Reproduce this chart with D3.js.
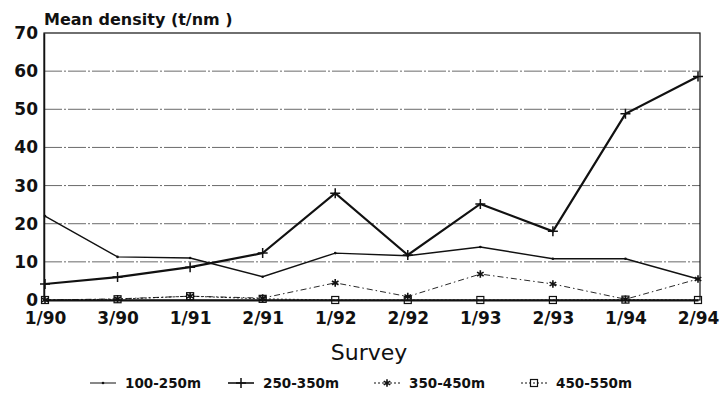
<!DOCTYPE html>
<html>
<head>
<meta charset="utf-8">
<script src="https://cdn.jsdelivr.net/npm/d3@7"></script>
<style>
  body { margin: 0; background: #fff; }
  text { font-family: "DejaVu Sans", sans-serif; fill: #111; }
</style>
</head>
<body>
<div id="chart"></div>
<script>
// Chart data
const surveys = ["1/90", "3/90", "1/91", "2/91", "1/92", "2/92", "1/93", "2/93", "1/94", "2/94"];
const depth100 = [22, 11.3, 11, 6.1, 12.3, 11.6, 13.9, 10.8, 10.8, 5.5];
const depth250 = [4.2, 6, 8.6, 12.3, 28, 11.8, 25.2, 18, 48.8, 58.6];
const depth350 = [0, 0.3, 1, 0.5, 4.5, 0.9, 6.8, 4.2, 0.2, 5.5];
const depth450 = [0, 0.2, 1, 0.3, 0, 0, 0, 0, 0.1, 0];
const yTicks = [0, 10, 20, 30, 40, 50, 60, 70];

const width = 720;
const height = 401;
const margin = { top: 33, right: 20, bottom: 101, left: 44 };

const svg = d3.select("#chart").append("svg")
    .attr("width", width)
    .attr("height", height);

const x = d3.scalePoint()
    .domain(surveys)
    .range([margin.left + 1, width - margin.right - 2]);

const y = d3.scaleLinear()
    .domain([0, 70])
    .range([height - margin.bottom, margin.top]);

// Gridlines (dash-dot)
svg.append("g")
    .selectAll("line")
    .data(yTicks.filter(d => d > 0 && d < 70))
    .enter().append("line")
    .attr("x1", margin.left)
    .attr("x2", width - margin.right)
    .attr("y1", d => y(d))
    .attr("y2", d => y(d))
    .attr("stroke", "#444")
    .attr("stroke-width", 0.8)
    .attr("stroke-dasharray", "18,2,2,2");

// Frame
svg.append("rect")
    .attr("x", margin.left)
    .attr("y", margin.top)
    .attr("width", width - margin.left - margin.right)
    .attr("height", height - margin.top - margin.bottom)
    .attr("fill", "none")
    .attr("stroke", "#111")
    .attr("stroke-width", 1.2);

// Y axis
const yAxis = svg.append("g")
    .attr("transform", `translate(${margin.left},0)`)
    .call(d3.axisLeft(y).tickValues(yTicks).tickSize(0).tickPadding(6));
yAxis.select(".domain").attr("stroke", "#111").attr("stroke-width", 1.5);
yAxis.selectAll("text")
    .style("font-family", "DejaVu Sans")
    .style("font-size", "17px")
    .style("font-weight", "bold");

// X axis
const xAxis = svg.append("g")
    .attr("transform", `translate(0,${height - margin.bottom})`)
    .call(d3.axisBottom(x).tickSize(0).tickPadding(12));
xAxis.select(".domain").attr("stroke", "#111").attr("stroke-width", 1.8);
xAxis.selectAll("text")
    .style("font-family", "DejaVu Sans")
    .style("font-size", "17px")
    .style("font-weight", "bold");

// Titles
svg.append("text")
    .attr("x", 44)
    .attr("y", 25)
    .style("font-size", "16px")
    .style("font-weight", "bold")
    .text("Mean density (t/nm )");

svg.append("text")
    .attr("x", 369)
    .attr("y", 360)
    .attr("text-anchor", "middle")
    .style("font-size", "22px")
    .text("Survey");

// Series
const series = [
    { name: "100-250m", values: depth100, width: 1.4, dash: null, marker: "dot" },
    { name: "250-350m", values: depth250, width: 2.2, dash: null, marker: "plus" },
    { name: "350-450m", values: depth350, width: 0.9, dash: "6,3,1.5,3", marker: "star" },
    { name: "450-550m", values: depth450, width: 0.9, dash: "2,2", marker: "square" }
];

const line = d3.line()
    .x((d, i) => x(surveys[i]))
    .y(d => y(d));

function drawMarker(g, type, cx, cy) {
    if (type === "plus") {
        g.append("path")
            .attr("d", `M${cx - 5},${cy}H${cx + 5}M${cx},${cy - 5}V${cy + 5}`)
            .attr("stroke", "#111").attr("stroke-width", 1.5);
    } else if (type === "star") {
        g.append("path")
            .attr("d", d3.symbol().type(d3.symbolAsterisk).size(40)())
            .attr("transform", `translate(${cx},${cy})`)
            .attr("fill", "none").attr("stroke", "#111").attr("stroke-width", 1.6);
    } else if (type === "square") {
        g.append("rect")
            .attr("x", cx - 3.5).attr("y", cy - 3.5)
            .attr("width", 7).attr("height", 7)
            .attr("fill", "none").attr("stroke", "#111").attr("stroke-width", 1.2);
    } else {
        g.append("circle")
            .attr("cx", cx).attr("cy", cy).attr("r", 1.3)
            .attr("fill", "#111");
    }
}

// draw back to front
series.slice().reverse().forEach(s => {
    const g = svg.append("g");
    g.append("path")
        .datum(s.values)
        .attr("d", line)
        .attr("fill", "none")
        .attr("stroke", "#111")
        .attr("stroke-width", s.width)
        .attr("stroke-dasharray", s.dash);
    s.values.forEach((v, i) => drawMarker(g, s.marker, x(surveys[i]), y(v)));
});

// Legend
const legendX = [90, 228, 374, 521];
const legendY = 383;
series.forEach((s, i) => {
    const g = svg.append("g");
    const lx = legendX[i];
    g.append("line")
        .attr("x1", lx).attr("x2", lx + 26)
        .attr("y1", legendY).attr("y2", legendY)
        .attr("stroke", "#111")
        .attr("stroke-width", i === 1 ? 1.6 : 1)
        .attr("stroke-dasharray", s.dash ? "2,2" : null);
    drawMarker(g, s.marker, lx + 13, legendY);
    g.append("text")
        .attr("x", lx + 35)
        .attr("y", legendY + 5)
        .style("font-size", "13.5px")
        .style("font-weight", "bold")
        .text(s.name);
});
</script>
</body>
</html>
